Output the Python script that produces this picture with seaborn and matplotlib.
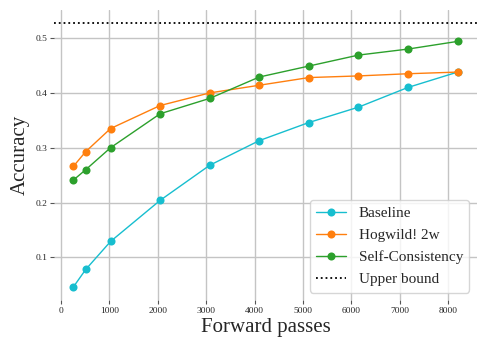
import pandas as pd
import matplotlib.pyplot as plt
import seaborn as sns

# -----------------------------
# Data
# -----------------------------
forward_passes = [256, 512, 1024, 2048, 3072, 4096, 5120, 6144, 7168, 8192]
baseline = [0.046, 0.078, 0.129, 0.204, 0.268, 0.313, 0.346, 0.374, 0.410, 0.438]
hogwild = [0.266, 0.293, 0.335, 0.377, 0.400, 0.414, 0.428, 0.431, 0.435, 0.438]
self_consistency = [0.241, 0.260, 0.300, 0.362, 0.390, 0.429, 0.449, 0.469, 0.480, 0.494]
upper_bound = 0.527

methods = ["Baseline", "Hogwild! 2w", "Self-Consistency"]
colors = ["#17becf", "#ff7f0e", "#2ca02c"]

df = pd.DataFrame({
    "Forward passes": forward_passes * 3,
    "Accuracy": baseline + hogwild + self_consistency,
    "Method": [m for m in methods for _ in forward_passes],
})

# -----------------------------
# Plot
# -----------------------------
sns.set_style("whitegrid")
plt.rcParams["font.family"] = ["Liberation Serif", "DejaVu Serif"]
plt.rcParams["xtick.bottom"] = True
plt.rcParams["ytick.left"] = True

fig, ax = plt.subplots(figsize=(4.88, 3.49), dpi=100)
fig.subplots_adjust(left=0.111, right=0.977, top=0.971, bottom=0.140)

sns.lineplot(
    data=df,
    x="Forward passes",
    y="Accuracy",
    hue="Method",
    palette=colors,
    marker="o",
    markersize=5.8,
    markeredgewidth=0,
    linewidth=1,
    ax=ax,
)
ax.axhline(upper_bound, color="black", linestyle=":", linewidth=1.3, label="Upper bound")

sns.despine(ax=ax, left=True, bottom=True)
ax.grid(True, color="#c4c4c4", linewidth=1)
ax.tick_params(axis="both", labelsize=6.8, length=3, color="#555555", pad=2)

ax.set_xticks([0, 1000, 2000, 3000, 4000, 5000, 6000, 7000, 8000])
ax.set_yticks([0.1, 0.2, 0.3, 0.4, 0.5])
ax.set_yticklabels(["0.1", "0.2", "0.3", "0.4", "0.5"])

ax.set_xlabel("Forward passes", fontsize=15, labelpad=2)
ax.set_ylabel("Accuracy", fontsize=15, labelpad=4)

handles, labels = ax.get_legend_handles_labels()
ax.legend(handles, labels, loc="lower right", fontsize=11, frameon=True,
          handlelength=2, borderaxespad=0.5, labelspacing=0.55)

plt.savefig("out.png", dpi=100)
plt.close()
